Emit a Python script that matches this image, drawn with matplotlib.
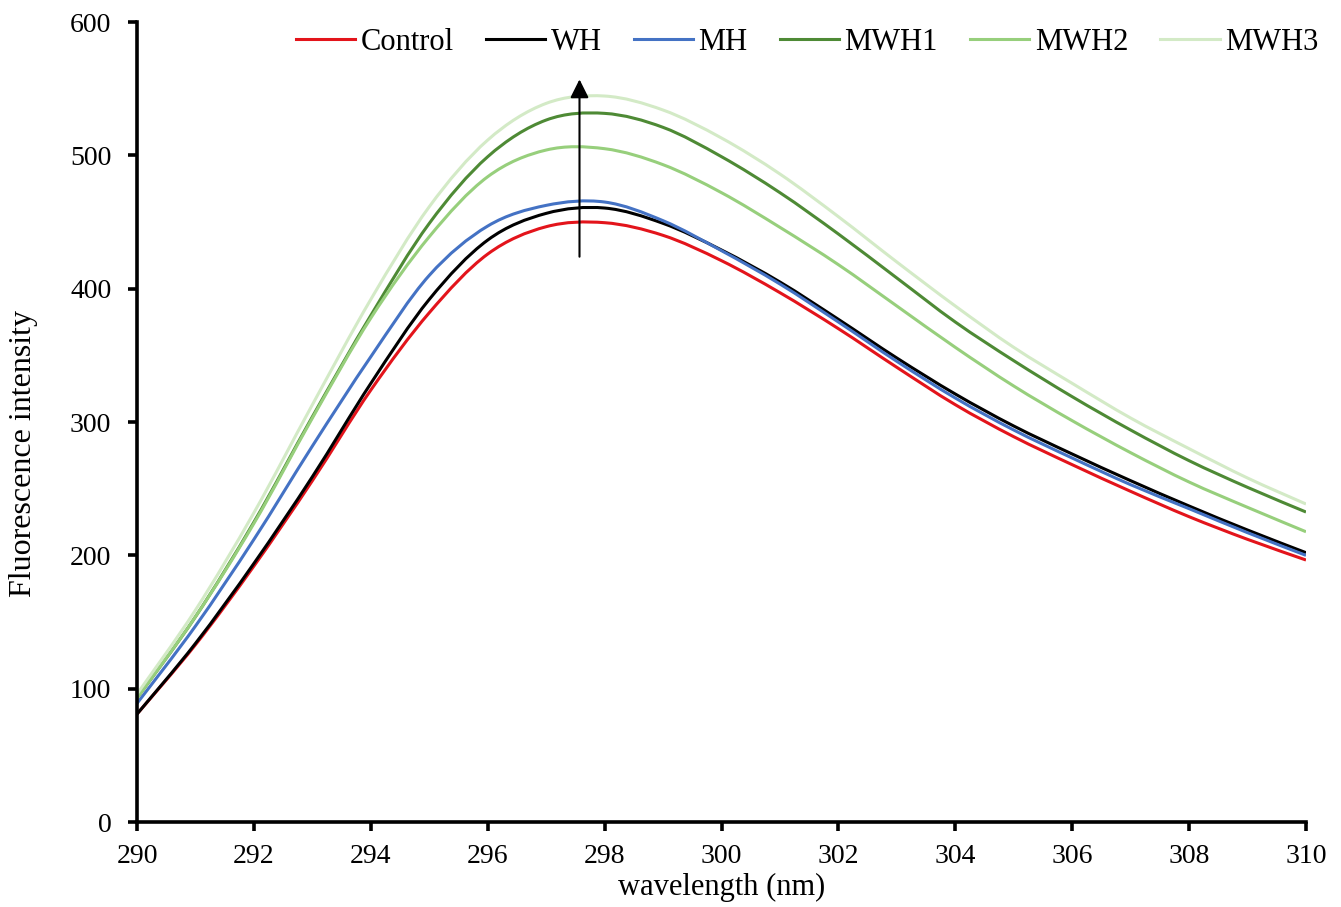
import matplotlib
matplotlib.use("Agg")
import matplotlib.pyplot as plt
from matplotlib.lines import Line2D
from matplotlib.patches import PathPatch
from matplotlib.path import Path

plt.rcParams["font.family"] = ["Liberation Serif", "DejaVu Serif"]

# Emission spectra, 1 nm steps
wavelength = [290, 291, 292, 293, 294, 295, 296, 297, 298, 299, 300,
              301, 302, 303, 304, 305, 306, 307, 308, 309, 310]

control = [81, 133, 192, 256, 324, 382, 426, 446.5, 449.5, 440, 421,
           397, 370, 341, 313, 289, 268, 248, 229, 212, 196.5]
wh = [81, 134, 194, 259, 329, 392, 436.5, 456.5, 460.5, 449, 429,
      405, 377, 348, 321, 297, 276, 256, 237, 219, 202]
mh = [89, 147, 212, 282, 349, 410, 447, 462.5, 465, 451, 428.5,
      403.5, 375, 345.5, 318, 294, 273, 253, 235, 217, 200]
mwh1 = [93, 154, 225, 304, 380, 449, 499, 526.5, 531.5, 521, 499,
        472, 441, 408, 375, 346, 319, 294, 271, 251, 232.5]
mwh2 = [93, 154, 224, 303, 378, 439, 484, 504, 505, 493, 472,
        446, 418, 387, 356, 327, 301, 277, 255, 236, 217.7]
mwh3 = [96, 159, 232, 313, 392, 461.5, 511.5, 539, 544.5, 534, 513,
        486, 454, 420, 387, 356, 329, 303, 280, 258, 238.5]

series = [
    ("Control", control, "#e3141b"),
    ("WH", wh, "#000000"),
    ("MH", mh, "#4472c4"),
    ("MWH1", mwh1, "#4e8a35"),
    ("MWH2", mwh2, "#97cf7c"),
    ("MWH3", mwh3, "#d3eac6"),
]

# arrow marking the increase in intensity
arrow_x = 297.57
arrow_from = 424
arrow_to = 557


def smooth_path(xs, ys):
    """Spreadsheet-style smoothed line: cubic Bezier through every point."""
    pts = list(zip(xs, ys))
    n = len(pts)
    verts = [pts[0]]
    codes = [Path.MOVETO]
    for i in range(n - 1):
        p0 = pts[max(i - 1, 0)]
        p1 = pts[i]
        p2 = pts[i + 1]
        p3 = pts[min(i + 2, n - 1)]
        c1 = (p1[0] + (p2[0] - p0[0]) / 6, p1[1] + (p2[1] - p0[1]) / 6)
        c2 = (p2[0] - (p3[0] - p1[0]) / 6, p2[1] - (p3[1] - p1[1]) / 6)
        verts += [c1, c2, p2]
        codes += [Path.CURVE4] * 3
    return Path(verts, codes)


fig = plt.figure(figsize=(13.41, 9.07), dpi=100)
ax = fig.add_axes([0.1022, 0.0937, 0.8717, 0.882])

handles = []
for name, vals, color in series:
    ax.add_patch(PathPatch(smooth_path(wavelength, vals), facecolor="none",
                           edgecolor=color, linewidth=2.2, capstyle="butt"))
    handles.append(Line2D([], [], color=color, linewidth=2.2, label=name))

ax.annotate("", xy=(arrow_x, arrow_to), xytext=(arrow_x, arrow_from),
            arrowprops=dict(arrowstyle="-|>", color="black", lw=1.5,
                            mutation_scale=28, shrinkA=0, shrinkB=0))

ax.set_xlim(290, 310)
ax.set_ylim(0, 600)
ax.set_xticks(range(290, 311, 2))
ax.set_yticks(range(0, 601, 100))

for side in ("top", "right"):
    ax.spines[side].set_visible(False)
for side in ("left", "bottom"):
    ax.spines[side].set_linewidth(2.6)
ax.tick_params(axis="both", direction="out", length=6.5, width=2.6,
               labelsize=20)
ax.tick_params(axis="x", pad=9)
ax.tick_params(axis="y", pad=12)

ax.set_xlabel("wavelength (nm)", fontsize=22, labelpad=3)
ax.set_ylabel("Fluorescence intensity", fontsize=23)
ax.yaxis.set_label_coords(-0.085, 0.461)

ax.legend(handles=handles, loc="upper right", bbox_to_anchor=(1.034, 1.027),
          ncol=6, frameon=False, fontsize=22, handlelength=1.95,
          handletextpad=0.17, columnspacing=1.05)

fig.savefig("out.png", dpi=100, facecolor="white")
